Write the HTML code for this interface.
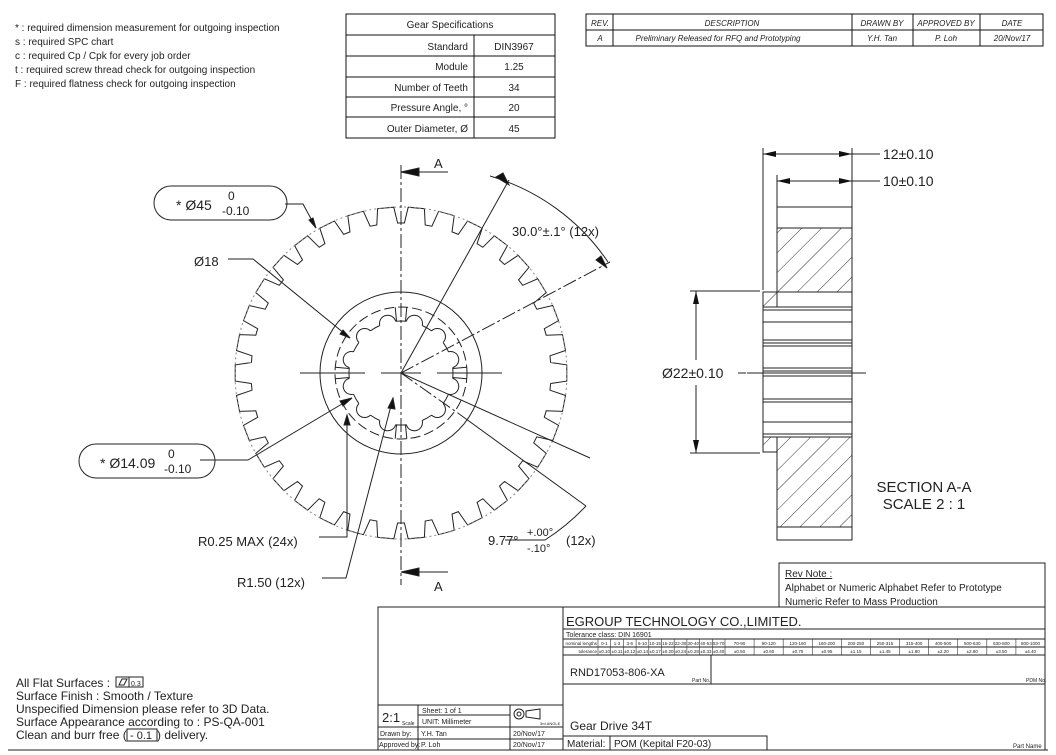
<!DOCTYPE html>
<html><head><meta charset="utf-8"><style>
body{margin:0;background:#fff}
svg{display:block}
text{font-family:"Liberation Sans",sans-serif;fill:#222}
</style></head><body>
<svg id="s" width="1056" height="755" viewBox="0 0 1056 755" xmlns="http://www.w3.org/2000/svg">
<rect x="0" y="0" width="1056" height="755" fill="#fff"/>
<g font-size="10">
<text x="15" y="31">* : required dimension measurement for outgoing inspection</text>
<text x="15" y="45">s : required SPC chart</text>
<text x="15" y="59">c : required Cp / Cpk for every job order</text>
<text x="15" y="73">t : required screw thread check for outgoing inspection</text>
<text x="15" y="87">F : required flatness check for outgoing inspection</text>
</g>
<g stroke="#111" fill="none">
<rect x="346" y="14" width="209" height="124"/>
<line x1="346" y1="35" x2="555" y2="35"/>
<line x1="346" y1="56" x2="555" y2="56"/>
<line x1="346" y1="77" x2="555" y2="77"/>
<line x1="346" y1="97" x2="555" y2="97"/>
<line x1="346" y1="117" x2="555" y2="117"/>
<line x1="474" y1="35" x2="474" y2="138"/>
</g>
<g font-size="10" text-anchor="middle">
<text x="450" y="28">Gear Specifications</text>
<text x="514" y="50">DIN3967</text>
<text x="514" y="70">1.25</text>
<text x="514" y="91">34</text>
<text x="514" y="111">20</text>
<text x="514" y="132">45</text>
</g>
<g font-size="10" text-anchor="end">
<text x="468" y="50">Standard</text>
<text x="468" y="70">Module</text>
<text x="468" y="91">Number of Teeth</text>
<text x="468" y="111">Pressure Angle, °</text>
<text x="468" y="132">Outer Diameter, Ø</text>
</g>
<g stroke="#111" fill="none">
<rect x="586" y="14" width="457" height="32"/>
<line x1="586" y1="30" x2="1043" y2="30"/>
<line x1="613" y1="14" x2="613" y2="46"/>
<line x1="852" y1="14" x2="852" y2="46"/>
<line x1="913" y1="14" x2="913" y2="46"/>
<line x1="980" y1="14" x2="980" y2="46"/>
</g>
<g font-size="8" font-style="italic" text-anchor="middle">
<text x="600" y="26">REV.</text><text x="732" y="26">DESCRIPTION</text><text x="882" y="26">DRAWN BY</text><text x="946" y="26">APPROVED BY</text><text x="1012" y="26">DATE</text>
<text x="600" y="41">A</text><text x="718" y="41">Preliminary Released for RFQ and Prototyping</text><text x="882" y="41">Y.H. Tan</text><text x="946" y="41">P. Loh</text><text x="1012" y="41">20/Nov/17</text>
</g>

<g id="gear" stroke="#222" fill="none" stroke-width="1"></g>
<g stroke="#222" fill="none" stroke-width="1">
<circle cx="401" cy="373" r="81"/>
<circle cx="401" cy="373" r="66" stroke-dasharray="10 4"/>
<line x1="401" y1="165" x2="401" y2="585" stroke-dasharray="14 3 3 3"/>
<line x1="300" y1="373" x2="365" y2="373"/><line x1="381" y1="373" x2="421" y2="373"/><line x1="437" y1="373" x2="502" y2="373"/>
<line x1="401" y1="172" x2="448" y2="172"/><polygon points="401,172 419,168 419,176" fill="#111"/>
<line x1="401" y1="572" x2="448" y2="572"/><polygon points="401,572 419,568 419,576" fill="#111"/>
<line x1="401" y1="373" x2="509" y2="180"/>
<line x1="401" y1="373" x2="610" y2="262" stroke-dasharray="14 3 3 3"/>
<line x1="401" y1="373" x2="590" y2="458"/>
<line x1="401" y1="373" x2="462" y2="416" stroke-dasharray="14 3 3 3"/>
<line x1="462" y1="416" x2="586" y2="506"/>
<path d="M490 176 A215 215 0 0 1 608 262"/>
<polygon points="509,185 496,177 503,173" fill="#111"/>
<polygon points="607,268 596,260 601,256" fill="#111"/>
<path d="M586 506 A215 215 0 0 1 545 540 L505 540"/>
<path d="M285 204 L303 204 L316 228"/><polygon points="316,228 309,220 313,218" fill="#111"/>
<path d="M228 259 L253 259 L350 338"/><polygon points="350,338 340,334 343,330" fill="#111"/>
<path d="M200 460 L248 460 L352 398"/><polygon points="352,398 343,406 340,401" fill="#111"/>
<path d="M319 537 L347 537 L347 415"/><polygon points="347,415 344,425 350,425" fill="#111"/>
<path d="M322 578 L346 578 L393 398"/><polygon points="393,398 388,408 395,409" fill="#111"/>
</g>
<g font-size="13">
<text x="434" y="168">A</text>
<text x="434" y="591">A</text>
<text x="512" y="236">30.0°±.1° (12x)</text>
<text x="194" y="266">Ø18</text>
<text x="198" y="546">R0.25 MAX (24x)</text>
<text x="237" y="587">R1.50 (12x)</text>
<text x="488" y="545">9.77°</text>
<text x="566" y="545">(12x)</text>
</g>
<g font-size="11"><text x="527" y="536">+.00°</text><text x="527" y="552">-.10°</text></g>
<path d="M171 186 L270 186 A17 17 0 0 1 270 220 L171 220 A17 17 0 0 1 171 186 Z" stroke="#222" fill="none"/>
<text x="176" y="210" font-size="14">* Ø45</text><text x="228" y="200" font-size="12">0</text><text x="222" y="215" font-size="12">-0.10</text>
<path d="M96 444 L198 444 A17 17 0 0 1 198 478 L96 478 A17 17 0 0 1 96 444 Z" stroke="#222" fill="none"/>
<text x="100" y="468" font-size="14">* Ø14.09</text><text x="168" y="458" font-size="12">0</text><text x="164" y="473" font-size="12">-0.10</text>

<defs><pattern id="h" patternUnits="userSpaceOnUse" width="14" height="14" patternTransform="rotate(45)"><line x1="0" y1="0" x2="0" y2="14" stroke="#333" stroke-width="1"/></pattern></defs>
<g stroke="#222" fill="none">
<rect x="777" y="228" width="75" height="64" fill="url(#h)"/>
<rect x="777" y="437" width="75" height="90" fill="url(#h)"/>
<polygon points="763,292 777,292 777,307 763,307" fill="url(#h)"/>
<polygon points="763,437 777,437 777,452 763,452" fill="url(#h)"/>
<path d="M777 207 L852 207 L852 540 L777 540 L777 452 L763 452 L763 292 L777 292 Z"/>
<line x1="777" y1="228" x2="852" y2="228"/><line x1="777" y1="527" x2="852" y2="527"/>
<line x1="763" y1="307" x2="852" y2="307"/><line x1="763" y1="310" x2="852" y2="310"/>
<line x1="763" y1="322" x2="852" y2="322"/>
<line x1="763" y1="340" x2="852" y2="340"/><line x1="763" y1="343" x2="852" y2="343"/><line x1="763" y1="346" x2="852" y2="346"/>
<line x1="763" y1="368" x2="852" y2="368"/><line x1="763" y1="371" x2="852" y2="371"/><line x1="763" y1="376" x2="852" y2="376"/>
<line x1="763" y1="399" x2="852" y2="399"/><line x1="763" y1="402" x2="852" y2="402"/>
<line x1="763" y1="422" x2="852" y2="422"/><line x1="763" y1="434" x2="852" y2="434"/><line x1="763" y1="437" x2="852" y2="437"/>
<line x1="747" y1="373" x2="866" y2="373"/>
<line x1="763" y1="148" x2="763" y2="290"/><line x1="777" y1="175" x2="777" y2="207"/><line x1="852" y1="148" x2="852" y2="207"/>
<line x1="763" y1="154" x2="880" y2="154"/><line x1="777" y1="181" x2="880" y2="181"/>
<line x1="690" y1="291" x2="760" y2="291"/><line x1="690" y1="453" x2="760" y2="453"/>
<line x1="696" y1="291" x2="696" y2="360"/><line x1="696" y1="385" x2="696" y2="453"/>
<line x1="738" y1="373" x2="746" y2="373"/>
</g>
<g fill="#111">
<polygon points="763,154 776,151 776,157"/><polygon points="852,154 839,151 839,157"/>
<polygon points="777,181 790,178 790,184"/><polygon points="852,181 839,178 839,184"/>
<polygon points="696,291 693,304 699,304"/><polygon points="696,453 693,440 699,440"/>
</g>
<g font-size="14"><text x="883" y="159">12±0.10</text><text x="883" y="186">10±0.10</text><text x="662" y="378">Ø22±0.10</text></g>
<g font-size="15" text-anchor="middle"><text x="924" y="492">SECTION A-A</text><text x="924" y="509">SCALE 2 : 1</text></g>

<g stroke="#222" fill="none"><path d="M779 607 L779 563 L1045 563 L1045 607"/></g>
<g font-size="10"><text x="785" y="577" text-decoration="underline">Rev Note :</text><text x="785" y="591">Alphabet or Numeric Alphabet Refer to Prototype</text><text x="785" y="605">Numeric Refer to Mass Production</text></g>

<g font-size="12"><text x="16" y="687">All Flat Surfaces :</text><text x="16" y="700">Surface Finish : Smooth / Texture</text><text x="16" y="713">Unspecified Dimension please refer to 3D Data.</text><text x="16" y="726">Surface Appearance according to : PS-QA-001</text><text x="16" y="739">Clean and burr free (</text><text x="157" y="739">) delivery.</text></g>
<g stroke="#222" fill="none"><rect x="116" y="677" width="13" height="10"/><rect x="129" y="677" width="14" height="10"/><rect x="127" y="729" width="30" height="12"/><path d="M119 685 L122 679 L127 679 L124 685 Z"/></g>
<text x="131" y="686" font-size="7">0.3</text><text x="130" y="739" font-size="11">- 0.1</text>

<g stroke="#222" fill="none">
<rect x="378" y="607" width="667" height="143"/>
<line x1="563" y1="607" x2="563" y2="750"/>
<line x1="563" y1="629" x2="1045" y2="629"/>
<line x1="563" y1="639" x2="1045" y2="639"/>
<line x1="563" y1="647" x2="1045" y2="647"/>
<line x1="563" y1="655" x2="1045" y2="655"/>
<line x1="563" y1="684" x2="1045" y2="684"/>
<line x1="711" y1="655" x2="711" y2="684"/>
<line x1="378" y1="705" x2="563" y2="705"/>
<line x1="418" y1="715" x2="510" y2="715"/>
<line x1="378" y1="727" x2="563" y2="727"/>
<line x1="378" y1="739" x2="563" y2="739"/>
<line x1="418" y1="705" x2="418" y2="750"/>
<line x1="510" y1="705" x2="510" y2="750"/>
<rect x="563" y="736" width="204" height="14"/>
<line x1="610" y1="736" x2="610" y2="750"/>
<line x1="8" y1="750" x2="1048" y2="750"/>
</g>
<g id="tol" stroke="#333" stroke-width="0.6"></g>
<text x="566" y="626" font-size="13">EGROUP TECHNOLOGY CO.,LIMITED.</text>
<text x="566" y="637" font-size="7">Tolerance class: DIN 16901</text>
<text x="570" y="676" font-size="11">RND17053-806-XA</text>
<text x="692" y="682" font-size="5">Part No.</text><text x="1026" y="682" font-size="5">PDM No.</text>
<text x="570" y="730" font-size="12">Gear Drive 34T</text>
<text x="567" y="747" font-size="10">Material:</text><text x="614" y="747" font-size="10">POM (Kepital F20-03)</text>
<text x="1013" y="748" font-size="6">Part Name</text>
<text x="382" y="722" font-size="13">2:1</text><text x="402" y="725" font-size="5">Scale</text>
<text x="422" y="713" font-size="7">Sheet: 1 of 1</text><text x="422" y="724" font-size="7">UNIT: Millimeter</text>
<text x="380" y="736" font-size="7">Drawn by:</text><text x="421" y="736" font-size="7">Y.H. Tan</text>
<text x="379" y="747" font-size="7">Approved by:</text><text x="421" y="747" font-size="7">P. Loh</text>
<text x="513" y="736" font-size="7">20/Nov/17</text><text x="513" y="747" font-size="7">20/Nov/17</text>
<text x="540" y="725" font-size="4">3rd ANGLE</text>
<g stroke="#222" fill="none"><circle cx="519" cy="714" r="5"/><circle cx="519" cy="714" r="2"/><path d="M526 711 L540 709 L540 719 L526 717 Z"/></g>
</svg>
<script>
(function(){
var ns="http://www.w3.org/2000/svg",g=document.getElementById('gear');
function P(r,a){a=a*Math.PI/180;return (401+r*Math.cos(a)).toFixed(1)+","+(373+r*Math.sin(a)).toFixed(1);}
var p=360/34,d="";
for(var i=0;i<34;i++){var c=-90+p/2+i*p;
 var pts=[P(150,c-p/2+1.3),P(150,c-4),P(166,c-2.8),P(166,c+2.8),P(150,c+4),P(150,c+p/2-1.3)];
 d+=(i==0?"M":"L")+pts.join(" L");}
d+="Z";
var e=document.createElementNS(ns,"path");e.setAttribute("d",d);g.appendChild(e);
var c2=document.createElementNS(ns,"circle");c2.setAttribute("cx",401);c2.setAttribute("cy",373);c2.setAttribute("r",166);c2.setAttribute("stroke-dasharray","2 3");c2.setAttribute("stroke","#888");g.appendChild(c2);
var bd="";
for(var k=0;k<12;k++){var a=15+30*k;bd+="M"+P(52,a-9)+" A8 8 0 0 1 "+P(52,a+9)+" ";}
for(var k=0;k<12;k++){var a=15+30*k;bd+="M"+P(52,a+9)+" A52 52 0 0 1 "+P(52,a+21)+" ";}
for(var k=0;k<4;k++){var a=90*k;bd+="M"+P(52,a-5)+" L"+P(66,a-5)+" M"+P(52,a+5)+" L"+P(66,a+5)+" ";}
var b=document.createElementNS(ns,"path");b.setAttribute("d",bd);g.appendChild(b);
var tg=document.getElementById('tol');
var L=["nominal lengths","0-1","1-3","3-6","6-10","10-15","15-22","22-30","30-40","40-53","53-70","70-90","90-120","120-160","160-200","200-250","250-315","315-400","400-500","500-630","630-800","800-1000"];
var T=["tolerance","±0.10","±0.11","±0.12","±0.14","±0.17","±0.20","±0.24","±0.28","±0.33","±0.40","±0.50","±0.60","±0.75","±0.95","±1.15","±1.45","±1.80","±2.20","±2.80","±3.50","±4.40"];
var x=[563,598];for(var i=1;i<=21;i++){x.push(x[x.length-1]+(i<11?12.7:(1045-725)/11));}
for(var i=0;i<L.length;i++){
 var l=document.createElementNS(ns,"line");l.setAttribute("x1",x[i]);l.setAttribute("x2",x[i]);l.setAttribute("y1",639);l.setAttribute("y2",655);tg.appendChild(l);
 [[L[i],645],[T[i],653]].forEach(function(v){var t=document.createElementNS(ns,"text");t.setAttribute("x",i==0?x[1]-1:(x[i]+x[i+1])/2);t.setAttribute("y",v[1]);t.setAttribute("font-size","4.5");t.setAttribute("text-anchor",i==0?"end":"middle");t.setAttribute("stroke","none");t.textContent=v[0];tg.appendChild(t);});
}
})();
</script>
</body></html>
